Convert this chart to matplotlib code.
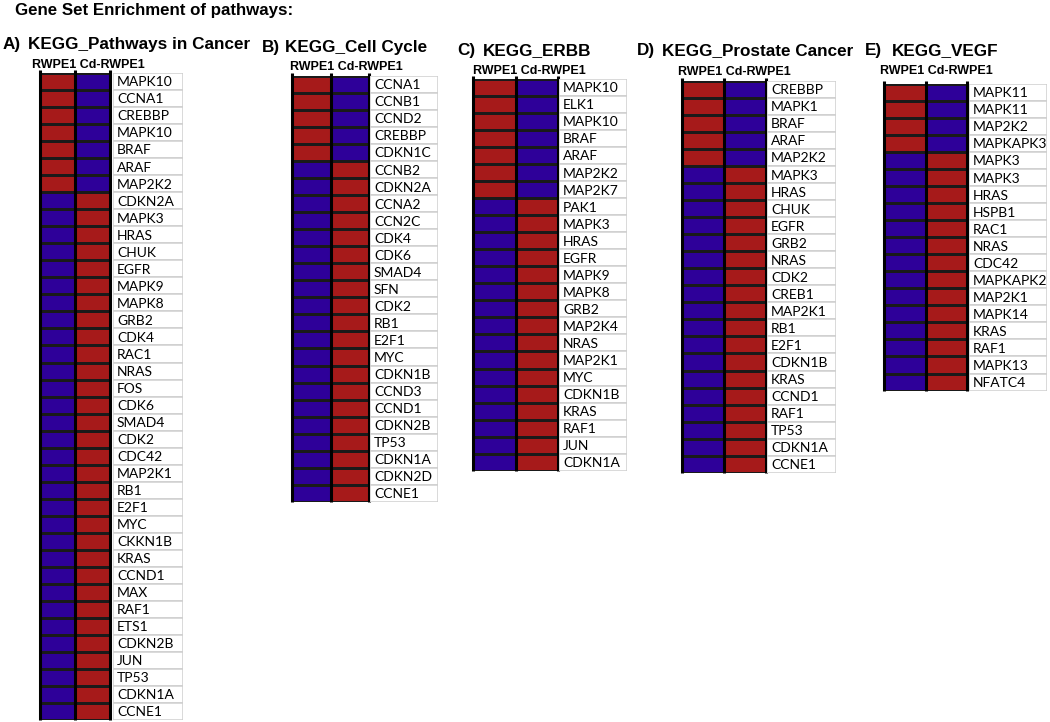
"""
Gene set enrichment heatmaps (RWPE1 vs Cd-RWPE1) for five KEGG pathways.
"""

import numpy as np
import matplotlib

matplotlib.use("Agg")
import matplotlib.pyplot as plt
from matplotlib.colors import ListedColormap

W, H = 1050, 722

# genes per pathway, top to bottom; the first n are higher in RWPE1
cancer_genes = [
    "MAPK10", "CCNA1", "CREBBP", "MAPK10", "BRAF", "ARAF", "MAP2K2",
    "CDKN2A", "MAPK3", "HRAS", "CHUK", "EGFR", "MAPK9", "MAPK8", "GRB2",
    "CDK4", "RAC1", "NRAS", "FOS", "CDK6", "SMAD4", "CDK2", "CDC42",
    "MAP2K1", "RB1", "E2F1", "MYC", "CKKN1B", "KRAS", "CCND1", "MAX",
    "RAF1", "ETS1", "CDKN2B", "JUN", "TP53", "CDKN1A", "CCNE1",
]
cancer_high_rwpe1 = 7

cycle_genes = [
    "CCNA1", "CCNB1", "CCND2", "CREBBP", "CDKN1C", "CCNB2", "CDKN2A",
    "CCNA2", "CCN2C", "CDK4", "CDK6", "SMAD4", "SFN", "CDK2", "RB1",
    "E2F1", "MYC", "CDKN1B", "CCND3", "CCND1", "CDKN2B", "TP53",
    "CDKN1A", "CDKN2D", "CCNE1",
]
cycle_high_rwpe1 = 5

erbb_genes = [
    "MAPK10", "ELK1", "MAPK10", "BRAF", "ARAF", "MAP2K2", "MAP2K7",
    "PAK1", "MAPK3", "HRAS", "EGFR", "MAPK9", "MAPK8", "GRB2", "MAP2K4",
    "NRAS", "MAP2K1", "MYC", "CDKN1B", "KRAS", "RAF1", "JUN", "CDKN1A",
]
erbb_high_rwpe1 = 7

prostate_genes = [
    "CREBBP", "MAPK1", "BRAF", "ARAF", "MAP2K2", "MAPK3", "HRAS", "CHUK",
    "EGFR", "GRB2", "NRAS", "CDK2", "CREB1", "MAP2K1", "RB1", "E2F1",
    "CDKN1B", "KRAS", "CCND1", "RAF1", "TP53", "CDKN1A", "CCNE1",
]
prostate_high_rwpe1 = 5

vegf_genes = [
    "MAPK11", "MAPK11", "MAP2K2", "MAPKAPK3", "MAPK3", "MAPK3", "HRAS",
    "HSPB1", "RAC1", "NRAS", "CDC42", "MAPKAPK2", "MAP2K1", "MAPK14",
    "KRAS", "RAF1", "MAPK13", "NFATC4",
]
vegf_high_rwpe1 = 4

samples = ["RWPE1", "Cd-RWPE1"]

RED = "#a61a1a"
BLUE = "#2e0099"
cmap = ListedColormap([BLUE, RED])

TITLE_FONT = "Liberation Sans"
GENE_FONT = "Lato"


def px_axes(fig, left, top, right, bottom):
    return fig.add_axes(
        [left / W, 1 - bottom / H, (right - left) / W, (bottom - top) / H]
    )


def draw_panel(fig, genes, n_high, letter, name, layout):
    """Draw one pathway: heatmap, gene boxes and headings."""
    n = len(genes)
    heat_l, heat_r, label_l, label_r, top = layout["box"]
    row_h = 17.03
    bottom = top + n * row_h

    rwpe1 = np.array([1] * n_high + [0] * (n - n_high))
    values = np.column_stack([rwpe1, 1 - rwpe1])

    ax = px_axes(fig, heat_l, top, heat_r, bottom)
    ax.pcolormesh(values, cmap=cmap, vmin=0, vmax=1,
                  edgecolors="#1a1a1a", linewidth=0.9)
    ax.set_xlim(0, 2)
    ax.set_ylim(n, 0)
    ax.vlines([0, 1, 2], -0.18, n, colors="black", linewidth=2.2,
              clip_on=False)
    ax.axis("off")

    lab = px_axes(fig, label_l, top, label_r, bottom)
    lab.barh(np.arange(n) + 0.5, 1, height=1, left=0, color="white",
             edgecolor="#cfcfcf", linewidth=1.1)
    lab.set_xlim(0, 1)
    lab.set_ylim(n, 0)
    pad = 4 / (label_r - label_l)
    for i, g in enumerate(genes):
        lab.text(pad, i + 0.55, g, va="center", ha="left", fontsize=10,
                 family=GENE_FONT, color="black")
    lab.axis("off")

    lx, nx, ty = layout["title"]
    fig.text(lx / W, 1 - ty / H, letter, fontsize=12.3, weight="bold",
             family=TITLE_FONT, va="center", ha="left")
    fig.text(nx / W, 1 - ty / H, name, fontsize=12.3, weight="bold",
             family=TITLE_FONT, va="center", ha="left")

    hx, hy = layout["header"]
    fig.text(hx / W, 1 - hy / H, " ".join(samples), fontsize=9,
             weight="bold", family=TITLE_FONT, va="center", ha="left")


fig = plt.figure(figsize=(W / 100, H / 100), dpi=100)
fig.patch.set_facecolor("white")

fig.text(15 / W, 1 - 10 / H, "Gene Set Enrichment of pathways:",
         fontsize=12.2, weight="bold", family=TITLE_FONT, va="center")

draw_panel(fig, cancer_genes, cancer_high_rwpe1, "A)",
           "KEGG_Pathways in Cancer",
           {"box": (40, 110, 113, 183, 73), "title": (3, 28, 45),
            "header": (32, 64.5)})
draw_panel(fig, cycle_genes, cycle_high_rwpe1, "B)", "KEGG_Cell Cycle",
           {"box": (292, 369, 370, 438, 76), "title": (262, 285, 47.5),
            "header": (290, 67.5)})
draw_panel(fig, erbb_genes, erbb_high_rwpe1, "C)", "KEGG_ERBB",
           {"box": (473, 558, 559, 627, 79), "title": (457, 483, 51),
            "header": (473, 71)})
draw_panel(fig, prostate_genes, prostate_high_rwpe1, "D)",
           "KEGG_Prostate Cancer",
           {"box": (682, 766, 767, 836, 81), "title": (637, 662, 51),
            "header": (678, 72)})
draw_panel(fig, vegf_genes, vegf_high_rwpe1, "E)", "KEGG_VEGF",
           {"box": (884, 967, 969, 1047, 84), "title": (865, 892, 50.5),
            "header": (880, 71)})

fig.savefig("out.png", dpi=100)
